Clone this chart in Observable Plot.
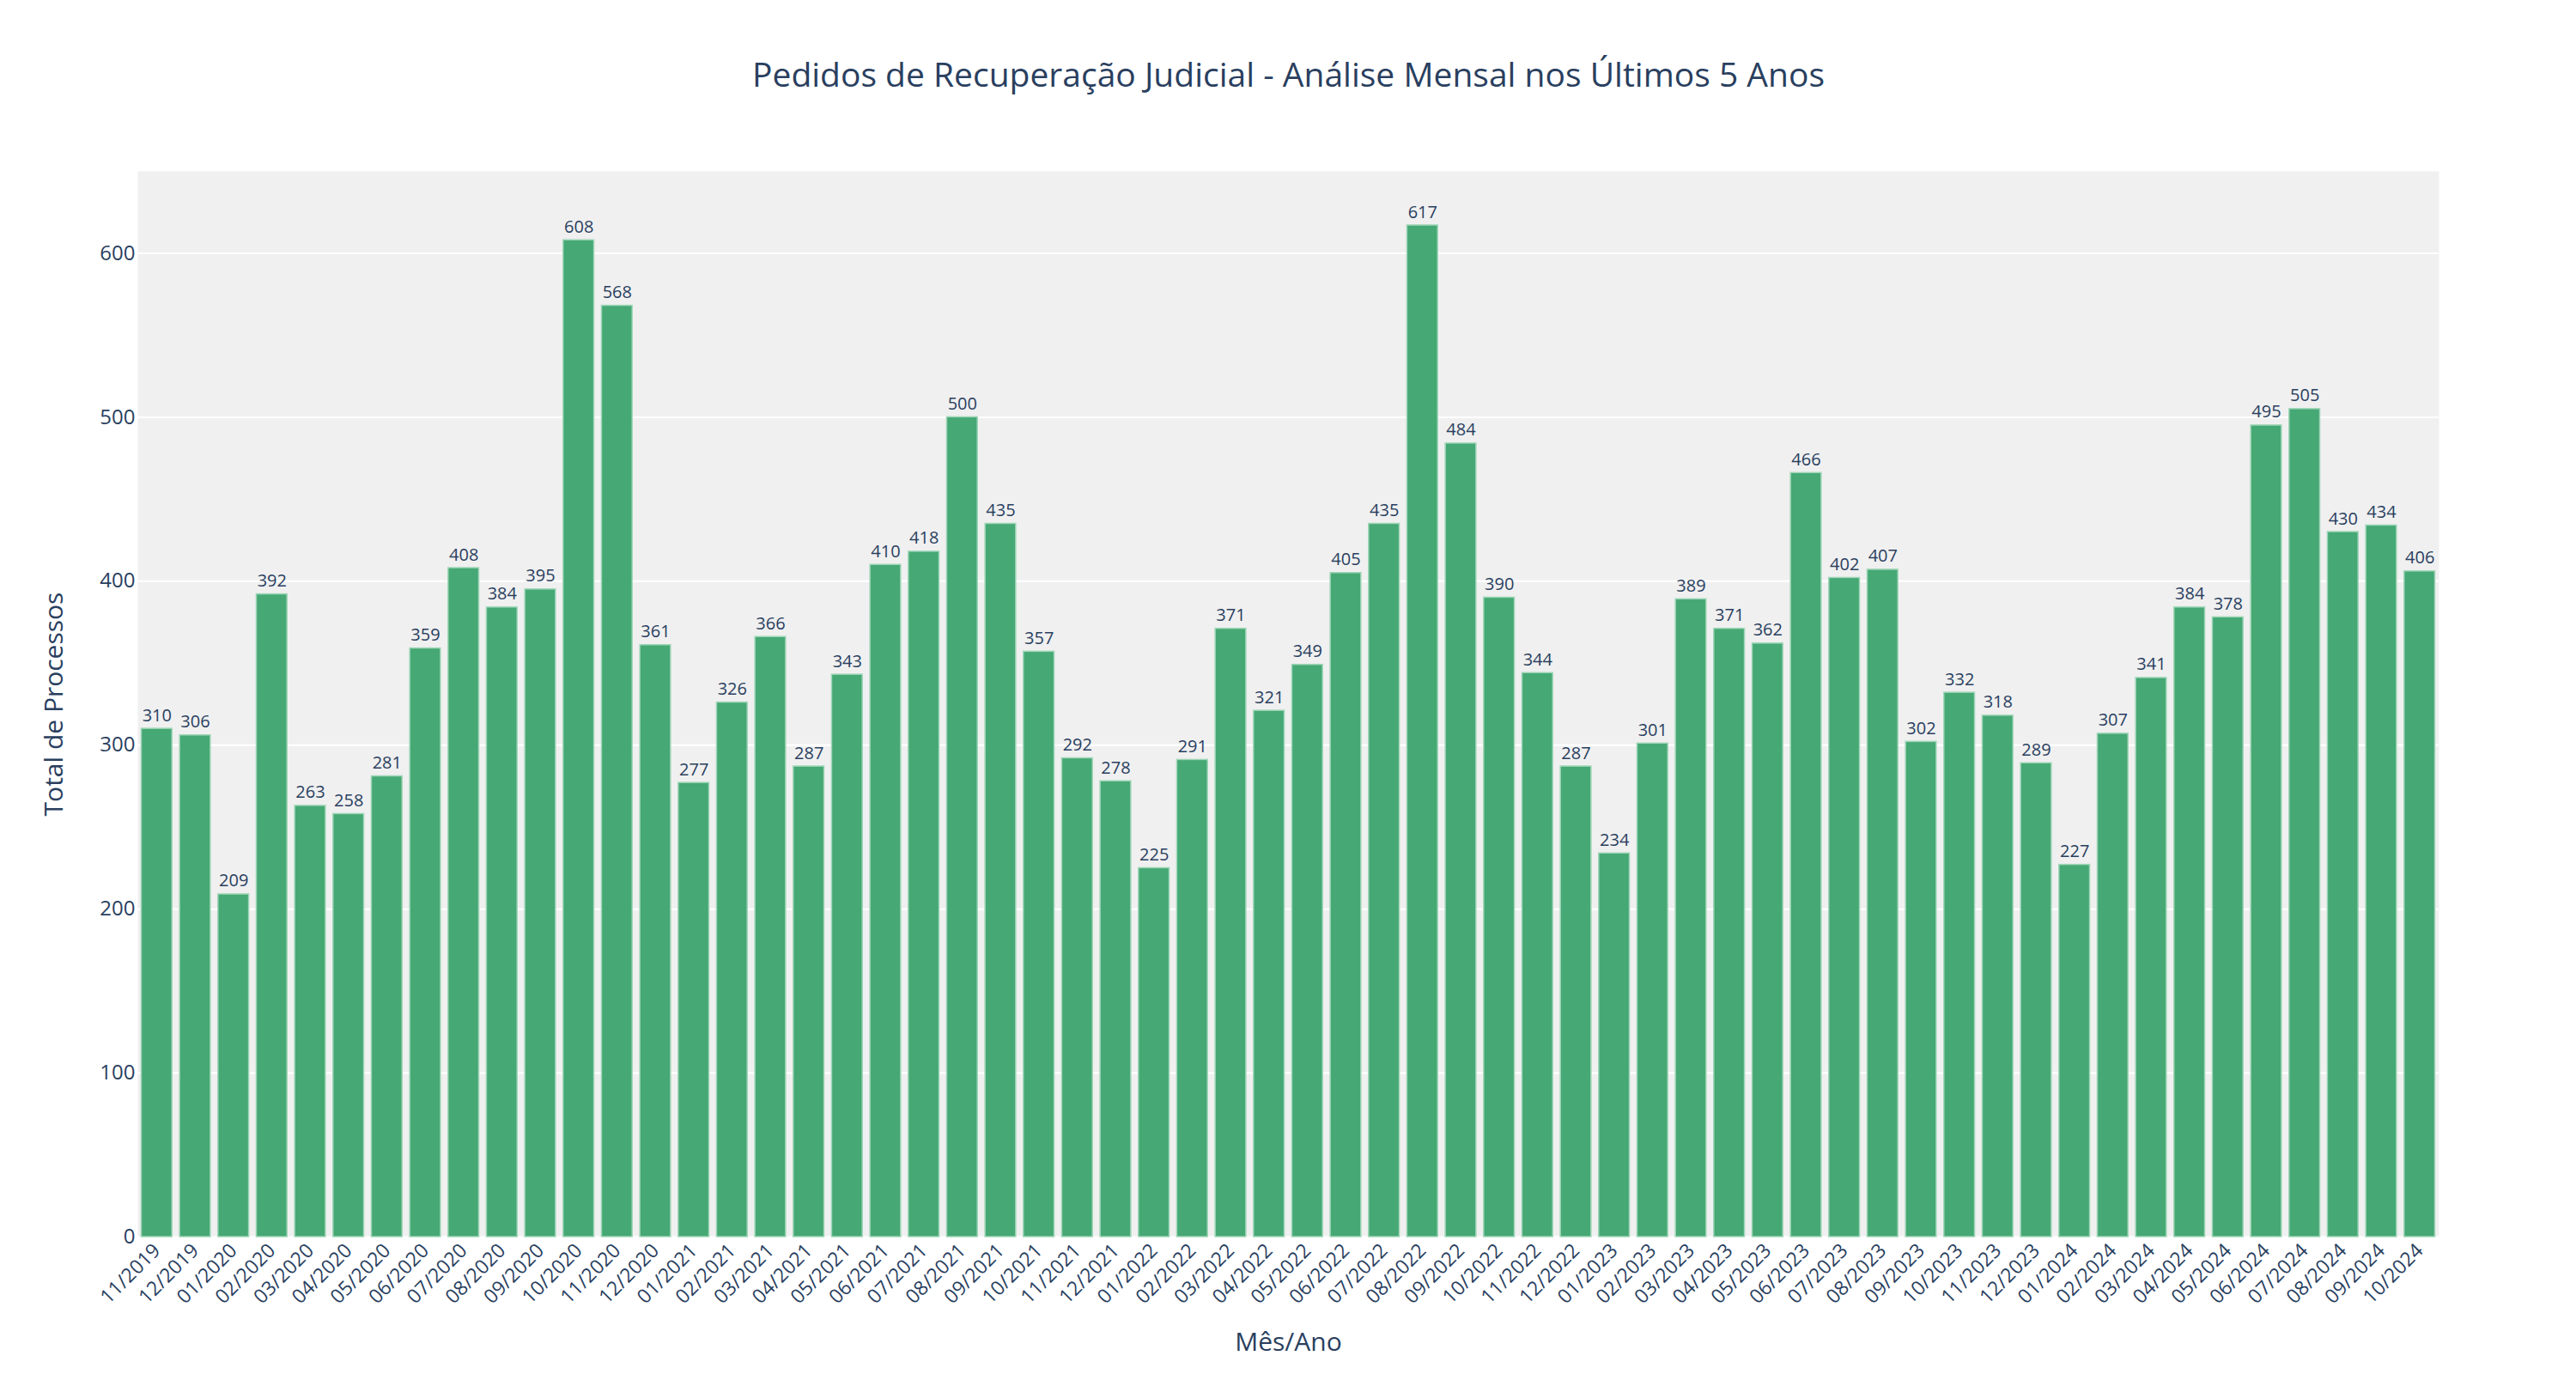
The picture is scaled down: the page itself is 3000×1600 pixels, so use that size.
<!DOCTYPE html>
<html>
<head>
<meta charset="utf-8">
<script src="https://cdn.jsdelivr.net/npm/d3@7"></script>
<script src="https://cdn.jsdelivr.net/npm/@observablehq/plot@0.6"></script>
<style>
  html, body { margin: 0; padding: 0; background: #ffffff; }
</style>
</head>
<body>
<div id="chart"></div>
<script>
const months = [
  "11/2019","12/2019",
  "01/2020","02/2020","03/2020","04/2020","05/2020","06/2020","07/2020","08/2020","09/2020","10/2020","11/2020","12/2020",
  "01/2021","02/2021","03/2021","04/2021","05/2021","06/2021","07/2021","08/2021","09/2021","10/2021","11/2021","12/2021",
  "01/2022","02/2022","03/2022","04/2022","05/2022","06/2022","07/2022","08/2022","09/2022","10/2022","11/2022","12/2022",
  "01/2023","02/2023","03/2023","04/2023","05/2023","06/2023","07/2023","08/2023","09/2023","10/2023","11/2023","12/2023",
  "01/2024","02/2024","03/2024","04/2024","05/2024","06/2024","07/2024","08/2024","09/2024","10/2024"
];
const totals = [
  310, 306,
  209, 392, 263, 258, 281, 359, 408, 384, 395, 608, 568, 361,
  277, 326, 366, 287, 343, 410, 418, 500, 435, 357, 292, 278,
  225, 291, 371, 321, 349, 405, 435, 617, 484, 390, 344, 287,
  234, 301, 389, 371, 362, 466, 402, 407, 302, 332, 318, 289,
  227, 307, 341, 384, 378, 495, 505, 430, 434, 406
];
const yTicks = [0, 100, 200, 300, 400, 500, 600];
const titleText = "Pedidos de Recuperação Judicial - Análise Mensal nos Últimos 5 Anos";
const xTitle = "Mês/Ano";
const yTitle = "Total de Processos";

const data = months.map((m, i) => ({month: m, total: totals[i]}));
const textColor = "#2a3f5f";

const chart = Plot.plot({
  width: 3000,
  height: 1600,
  marginLeft: 160,
  marginRight: 160,
  marginTop: 199,
  marginBottom: 160,
  style: {fontFamily: "'Open Sans', sans-serif", color: textColor, background: "#ffffff", overflow: "visible"},
  x: {type: "band", domain: months, paddingInner: 0.2, paddingOuter: 0.1},
  y: {domain: [0, 650]},
  marks: [
    Plot.frame({fill: "#f0f0f0", stroke: null}),
    Plot.gridY(yTicks, {stroke: "#ffffff", strokeOpacity: 1, strokeWidth: 2}),
    Plot.barY(data, {x: "month", y: "total", fill: "#46a874", stroke: "#9fd6b8", strokeWidth: 1.5, inset: 0}),
    Plot.text(data, {x: "month", y: "total", text: d => String(d.total), lineAnchor: "bottom", dy: -9, fontSize: 20, fill: textColor}),
    Plot.axisY(yTicks, {tickSize: 0, tickPadding: 3, fontSize: 24, label: null}),
    Plot.axisX({tickRotate: -45, tickSize: 0, tickPadding: 12, fontSize: 23, label: null}),
    Plot.text([titleText], {frameAnchor: "top", dy: -99, lineAnchor: "bottom", textAnchor: "middle", fontSize: 39, fill: textColor}),
    Plot.text([xTitle], {frameAnchor: "bottom", dy: 132, lineAnchor: "bottom", textAnchor: "middle", fontSize: 30, fill: textColor}),
    Plot.text([yTitle], {frameAnchor: "left", dx: -97, rotate: -90, textAnchor: "middle", lineAnchor: "middle", fontSize: 30, fill: textColor})
  ]
});
document.getElementById("chart").appendChild(chart);
</script>
</body>
</html>
